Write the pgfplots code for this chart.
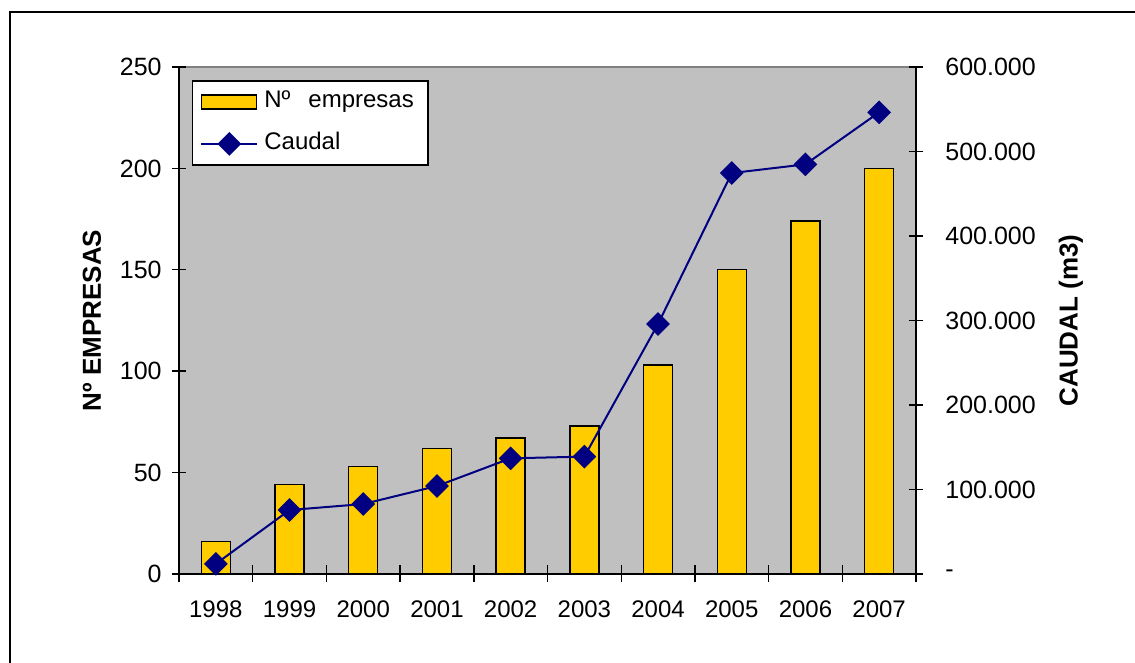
\documentclass[border=0pt]{standalone}
\usepackage{pgfplots}
\pgfplotsset{compat=1.18}
\usepackage{fontspec}
\setmainfont{Liberation Sans}
\definecolor{barfill}{HTML}{FFCC00}
\definecolor{plotbg}{HTML}{C0C0C0}
\definecolor{navyline}{HTML}{000080}
\pgfplotsset{
 caudallegend/.style={legend image code/.code={\draw[mark repeat=2,mark phase=2,##1] plot coordinates {(0pt,0pt)(14pt,0pt)(28pt,0pt)};}},
 barlegend/.style={legend image code/.code={\draw[fill=barfill, draw=black, line width=0.7pt] (0pt,-3.5pt) rectangle (27.5pt,3.5pt);}},
 base/.style={
  scale only axis, width=368.5pt, height=253.5pt,
  at={(89.5pt,44.5pt)}, anchor=south west,
  xmin=-0.5, xmax=9.5,
  /pgf/number format/assume math mode=true,
  tick label style={font=\fontsize{12}{14}\selectfont},
  yticklabel style={font=\fontsize{12.5}{14}\selectfont},
  label style={font=\fontsize{13}{15}\selectfont\bfseries},
  axis line style={-, black, line width=0.7pt},
  tick style={black, line width=0.7pt},
  tick align=center,
 }
}
\begin{document}
\begin{tikzpicture}[x=1pt,y=1pt]
\path[use as bounding box] (0,0) rectangle (567.5,331.5);
\draw[line width=1pt] (5,0) -- (5,325.5) -- (567.5,325.5);
\begin{axis}[base,
  axis background/.style={fill=plotbg, draw=gray, line width=0.7pt},
  axis x line*=bottom, axis y line*=left,
  ymin=0, ymax=250, ytick={0,50,...,250},
  major tick length=7pt,
  xtick={0,...,9},
  xticklabels={1998,1999,2000,2001,2002,2003,2004,2005,2006,2007},
  x tick style={draw=none},
  minor xtick={-0.5,0.5,...,9.5},
  minor x tick style={draw=black, line width=0.7pt},
  minor tick length=8.5pt,
  xticklabel style={anchor=north, inner sep=0pt, yshift=-9.5pt},
  yticklabel style={anchor=east, inner sep=0pt, xshift=-5pt},
  ylabel={Nº EMPRESAS},
  ylabel style={at={(axis description cs:-0.118,0.5)}, anchor=center},
]
\addplot[ybar, bar width=14.5pt, fill=barfill, draw=black, line width=0.7pt]
 coordinates {(0,16) (1,44) (2,53) (3,62) (4,67) (5,73) (6,103) (7,150) (8,174) (9,200)};
\end{axis}
\begin{axis}[base,
  axis y line*=right, axis x line=none,
  ymin=0, ymax=600000, ytick={0,100000,...,600000},
  yticklabels={-,100.000,200.000,300.000,400.000,500.000,600.000},
  scaled y ticks=false,
  major tick length=7pt,
  yticklabel style={anchor=west, inner sep=0pt, xshift=11pt},
  ylabel={CAUDAL (m3)},
  ylabel style={at={(axis description cs:1.2103,0.5)}, anchor=center},
  legend style={at={(rel axis cs:0.0172,0.974)}, anchor=north west,
    draw=black, fill=white, line width=0.7pt,
    font=\fontsize{12}{14}\selectfont,
    inner xsep=4pt, inner ysep=4.5pt, row sep=9pt,
    nodes={inner xsep=3pt, inner ysep=0pt, text height=9pt, text depth=3pt}},
  legend cell align=left,
]
\addlegendimage{barlegend}
\addlegendentry{Nº\hspace{9pt}empresas\hspace{5pt}}
\addplot[navyline, line width=1pt, mark=square*, mark size=3.7pt,
  mark options={rotate=45, fill=navyline, draw=navyline}, caudallegend]
 coordinates {(0,12000) (1,75700) (2,82800) (3,104100) (4,136900) (5,138900) (6,295900) (7,474500) (8,484800) (9,546400)};
\addlegendentry{Caudal}
\end{axis}
\end{tikzpicture}
\end{document}
